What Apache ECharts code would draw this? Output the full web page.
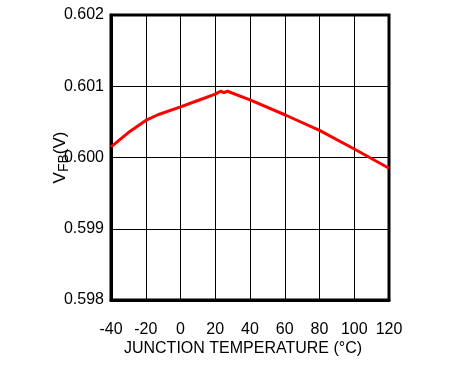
<!DOCTYPE html>
<html><head><meta charset="utf-8">
<script src="https://cdn.jsdelivr.net/npm/echarts@6/dist/echarts.min.js"></script>
<style>html,body{margin:0;padding:0;background:#fff}#c{width:450px;height:368px}</style>
</head><body><div id="c"></div>
<script>
var temps = [-40, -30, -20, -13, 0, 10, 20, 23, 25, 27, 40, 60, 80, 100, 120];
var vfb = [0.60015, 0.60035, 0.60052, 0.60060, 0.60071, 0.60080, 0.60089, 0.60093, 0.60091, 0.60093, 0.60081, 0.60060, 0.60038, 0.60012, 0.59985];
var xTicks = [-40, -20, 0, 20, 40, 60, 80, 100, 120];
var yTicks = [0.598, 0.599, 0.600, 0.601, 0.602];

var chart = echarts.init(document.getElementById('c'), null, {renderer: 'canvas'});
var font = 'Liberation Sans, Arial, sans-serif';
chart.setOption({
  animation: false,
  grid: {left: 111, right: 61, top: 15, bottom: 68, show: true, borderColor: '#000', borderWidth: 3},
  xAxis: {
    type: 'value', min: xTicks[0], max: xTicks[xTicks.length - 1], interval: 20,
    name: 'JUNCTION TEMPERATURE (°C)', nameLocation: 'middle', nameGap: 41, nameMoveOverlap: false,
    nameTextStyle: {color: '#000', fontSize: 16, fontFamily: font, padding: [0, 14, 0, 0]},
    axisLine: {show: true, onZero: false, lineStyle: {color: '#000', width: 3}},
    axisTick: {show: false},
    axisLabel: {color: '#000', fontSize: 16, fontFamily: font, margin: 22},
    splitLine: {show: true, lineStyle: {color: '#000', width: 1}}
  },
  yAxis: {
    type: 'value', min: yTicks[0], max: yTicks[yTicks.length - 1], interval: 0.001,
    name: '{a|V}{b|FB}{a|(V)}', nameLocation: 'middle', nameGap: 40, nameMoveOverlap: false,
    nameTextStyle: {color: '#000', fontSize: 16, fontFamily: font,
      rich: {a: {fontSize: 17, fontFamily: font, color: '#000'},
             b: {fontSize: 14, fontFamily: font, color: '#000', padding: [7, 0, 0, 0]}}},
    axisLine: {show: true, onZero: false, lineStyle: {color: '#000', width: 3}},
    axisTick: {show: false},
    axisLabel: {color: '#000', fontSize: 16, fontFamily: font, margin: 7,
      formatter: function (v) { return v.toFixed(3); }},
    splitLine: {show: true, lineStyle: {color: '#000', width: 1}}
  },
  series: [{
    type: 'line', data: temps.map(function (t, i) { return [t, vfb[i]]; }),
    showSymbol: false, lineStyle: {color: '#ff0000', width: 3}, itemStyle: {color: '#ff0000'}
  }]
});
</script></body></html>
